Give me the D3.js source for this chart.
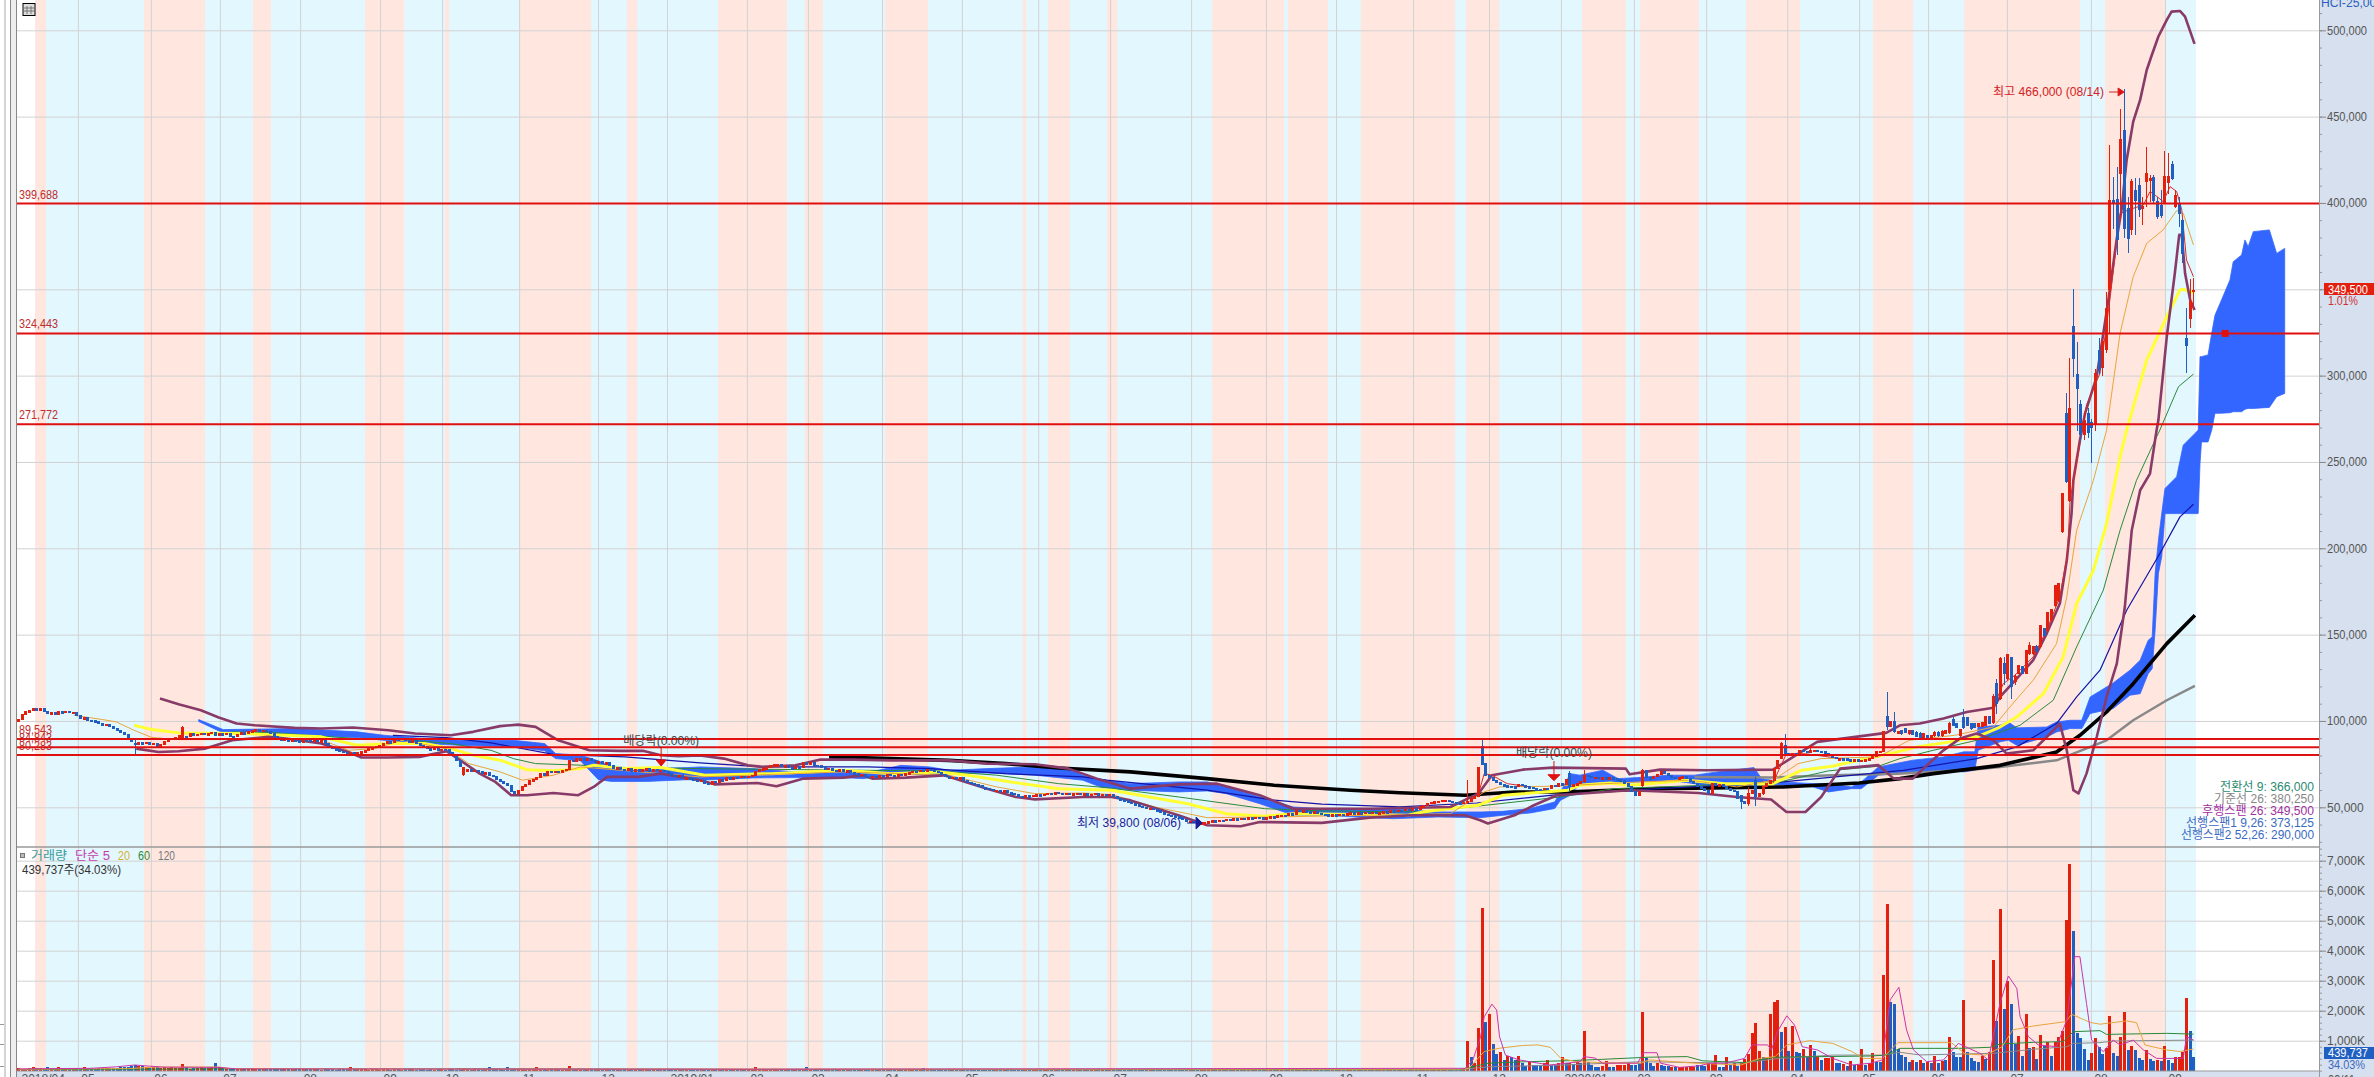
<!DOCTYPE html>
<html><head><meta charset="utf-8">
<style>html,body{margin:0;padding:0;background:#fff;overflow:hidden}svg{display:block}text{font-family:"Liberation Sans","Noto Sans CJK KR",sans-serif}</style>
<script src="https://cdn.jsdelivr.net/npm/d3@7"></script></head><body><svg id="c" width="2374" height="1077"></svg>
<script>
// ---------- data (price in thousands of won, x = trading-day number from 2018/04) ----------
const monthIdx=[0,16.4,36.4,55.3,77.3,99.2,116.2,137.3,158.9,177.8,199.7,216.4,236.7,258.6,279.5,299.2,321.4,341.9,361.1,382.2,403,422.7,442.7,462.5,484.7,504.4,523.3,544.9,567.9,588.2];
const monthLabels=["2018/04","05","06","07","08","09","10","11","12","2019/01","02","03","04","05","06","07","08","09","10","11","12","2020/01","02","03","04","05","06","07","08","09"];
const pinkBands=[[4.7,7.7],[34.5,51.2],[64.4,69.3],[95.1,105.8],[117,118.1],[137.3,157],[166.8,169.6],[191.8,210.7],[215.6,220.5],[237.5,249.3],[275.3,276.2],[282.2,288.2],[298.4,301.1],[327.1,346.8],[347.9,358.9],[367.9,393.7],[396.7,405.8],[428.5,440.5],[444.4,460.5],[473.4,488.2],[508.2,519.2],[533.2,564.9],[571.8,588.2]];
const blueSpan=[4.7,596.7];
const closes=[100.8,103.5,105.5,106,107,106.8,107.2,105.5,104.3,104.8,
103.9,105.3,105,105.6,104.7,105,103,101.4,102,100.5,
100,99.5,98.5,97.5,98,96.8,95.5,94.6,93.5,92,
89.2,88,86.9,87.5,87,87.7,86.5,87,85.5,86.5,
88,89.2,90,90.5,91.7,91,90.8,92.8,91.5,92.3,
93,92,92.7,93.5,91.8,92.5,92.3,92.9,91,90.8,
92,93.1,92.5,94,94.3,95,93.8,94.5,93.7,93,
91,89.5,88.8,89.8,88,88.9,88.5,87.8,89,88.8,
88,89.2,88.5,88.5,87,85.5,84,83.6,82.5,82,
81.1,81.8,80.8,81.5,82.1,82.8,84,84.5,85.5,86,
86.9,88,87.5,89.5,89.2,90,88.5,87.9,88.6,87,
85.9,85,84,83.4,84.5,83,83.6,83.2,81.5,80.2,
77,73.4,71,71.8,70.5,71.5,70.5,69.5,70,68.5,
67.6,66,65,63.5,62.8,59,57.9,60,61.8,63,
65.3,66,67,69.5,68.5,70.8,70.5,71,70,71.5,
72,77.3,76.5,78,78.2,77,78,77.3,76,76.5,
75.3,75.8,74,72.4,73,72,71.5,72.5,71,71.8,
71,71.8,72.2,71,72,71.5,71.5,70.5,69.5,68.5,
68,68.5,67,67.2,66.5,65.7,64.8,65.7,64,63.3,
65,64.5,66,65.5,67,66.3,67.5,67,68,67.5,
68,68.5,71,72,72.4,73,74,74.7,74.7,73.5,
74,73,72.4,73.5,72.8,75.7,75,76,74.3,74,
73,71.8,72.5,71.5,71,71.8,70.5,71.2,70,69.5,
68.5,69,68,67.2,68,67,68.5,68,69,68.5,
68,69,68.5,69.5,70,70.9,70.5,71.5,71,72,
71.5,71,70,69,67.6,67,67.5,66.6,67,65.5,
64.5,64,63,62.5,61.4,61,60.5,59.5,60,59.5,
59.5,58.5,58,57.2,56.4,56,56.8,56.4,57,57.4,
57,57.6,58,57.2,58.7,58,57.4,58,57.4,57.9,
58,57.4,57.8,57,57.5,58,57,57.5,56.9,57.5,
56,55,54.5,54,53,52,51.5,50.6,50,49.2,
49.5,48.7,48,47,46,45.5,45,44.5,44,43,
42,42,41.5,40.5,41,41.1,41.5,42.3,41.8,42.5,
42.1,43,42.5,43.4,43,43.8,43.4,44,43.6,44.2,
44,43.7,44,44.5,44.2,45,45.5,45.2,46.4,46,
48.3,47.5,48,47.5,47,47.3,46.5,46,45.8,45.4,
45.8,45.4,46,45.6,46.2,46.7,46.2,46.7,46.3,47,
46.7,47,46.3,46.8,47.5,47,48,47.5,48.3,48,
48.8,48.3,49.3,49,50.5,51,52,53,53.1,53.6,
54,54.1,53.5,53,52.5,52.2,52.8,53.5,55,56,
73,75,68.6,67,65.5,64.5,63,62.5,62.2,62,
61.8,63.4,62.5,62,61.5,60.8,60.5,60.3,61,60.8,
62.8,62,63.7,63,66,61.8,63,63.7,65,68.6,
68,67,67.5,66.6,67,66.5,67,66.6,66,65.7,
64,61.8,59,57,58.9,71.5,67,66.6,68,69,
70.5,69.5,68.6,67.5,66.6,67,67.6,66.5,65,63.7,
62,60.8,59.5,57.9,63.7,62.5,63,61.8,61,60,
58.9,55,53.1,52,58,60,56,58,61.8,63.5,
65.7,72.4,77.3,86.9,81,80.1,81.1,80.2,83,82.5,
82.1,83,83,82.5,82.1,81,80.2,79,78.2,78.2,
78,77.5,77.3,77.5,77,77.3,77.5,78.2,79.5,82.1,
82.5,93.7,96.6,99.5,93.7,93.7];
// [day, open, high, low, close] for the candles with a visible range of their own
const bigCandles=[[32,87,89,81,86.9],[45,90,97,89.5,96.5],[122,69.2,73,68,73],[397,53,65.7,52.1,53.5],[400,56,73,56,73],[401,85,88.8,75,75],[402,75.3,75.3,68.6,68.6],[425,69.5,71,59,61.8],[429,64.7,71.5,64,68.6],[445,62.8,71.9,61.8,71.5],[472,57,57,49.3,53.1],[474,52.1,61.8,51,58],[476,65.7,67.6,50.6,56],[478,58,62,57,61.8],[481,65.7,72.4,65.7,72.4],[483,78.2,88,78,86.9],[484,85.9,92.7,80,81],[491,82,86,81.5,83],[511,82.1,93.7,82,93.7],[512,102.4,116.8,95,96.6],[514,99.5,105.3,93,93.7]];
// open, high, low, close of the last bars, from day 516
const recentBars=[[94.6,95,92,92.7],[95.6,96,93,93.6],[92.5,95,92,94.6],[94.6,95,92,92.3],[93.6,94,91,91.1],[93,93.5,90,90.4],[90.7,93,90,92.7],[91.3,92,90,90.4],[89.7,92,89.5,91.7],[91.7,94,91,93.6],[93.6,94,91,91.7],[91.7,94.5,91,94],[93,95,92.5,94.6],[93.6,99.4,92.7,98.5],[100.8,102.3,97,97.5],[98.5,99,96,96.5],[91.7,95,91,95],[102,107,95.6,96.5],[102,102.5,97,97.5],[98.5,99,95,95.6],[98.5,99,96,96.2],[96.9,98.5,96.5,98.5],[96.9,99.4,96.5,99.4],[97.5,102.3,97,102.3],[102.7,103,98,98.5],[99.4,115.8,98.5,113.9],[121.6,124.5,104,110],[113,137,112,136],[133.2,137,121,127.4],[124.5,138.6,124,138.6],[136.7,136.7,113,119.7],[122.6,127.4,120.7,125.5],[127.4,132.3,127,132.3],[131.7,132,127,127.4],[127.4,140.9,127,140.9],[139,146,138,143.9],[139,142.9,138,142.9],[143.3,144,140,140],[142.9,155.4,142,155.4],[153.5,154,149,149.6],[152.5,162.6,152,162.6],[158.3,164.7,158,164.7],[167,178.6,166,178.6],[170,179.6,169,179.6],[209.5,231.7,209,231.7],[278,289.7,238,238.5],[227.8,310,227,281],[328.7,350.2,299,310],[300.4,319.7,268,292.6],[283,286,262,266],[266,279,263,274],[278,281,264,267],[273,275,249.5,270],[272,304,268,301],[314.8,321.6,301,304.2],[305,321,300,319.7],[315,348.6,313,339],[349.6,433.6,324.5,401.7],[401.7,415.3,385,400],[402,421,370,378.6],[416.8,454.5,390,436.5],[442,466,380,385],[396.9,403.7,370.8,379.5],[384.4,414,381.5,412.4],[407.5,414.3,381.5,401.7],[410.4,414.3,392,396],[397,403.7,387,398],[412.4,432.6,397.9,416.8],[413,416.2,400.8,414],[415,416.2,399.8,401.7],[400.8,403.7,391,392.1],[398.8,407.5,391.5,393],[399.8,430,399.8,415.3],[411.8,428.8,405,415.3],[422,424.3,413.3,414.3],[397.9,407.5,396.9,404.6],[399.8,403.7,386.3,394],[390,391,365,370.8],[321.6,339,301.7,317.7],[333.2,355.8,327.4,342.8],[349.2,356.4,338,349.5]];
const bbUpper=[[38.9,113],[44,109.7],[50.1,106.2],[55,102],[59.9,98.5],[64.8,97.5],[75.8,96],[83.1,95.6],[91.7,96.2],[101.5,94.6],[108.8,92.7],[118.6,91.7],[124.7,93.7],[132.1,97],[137,97.9],[141.8,96.6],[148,88.8],[156.5,83],[165.1,82.7],[171.2,82.7],[176.1,80.2],[181,79.6],[186.9,80],[193.4,78.2],[200,74.3],[203.9,73.4],[213,74.3],[219.6,77.6],[228.8,77.6],[239.3,77.2],[255,77.2],[265.5,75.3],[278.6,74.9],[287.8,72.4],[295.6,66.6],[304.8,60.8],[317.9,63.3],[328.4,63.7],[340.2,57],[349.4,49.2],[370.3,49.2],[392.4,50.2],[400.1,57.9],[403.8,68.6],[412.2,71.8],[420.5,73],[440.5,72.4],[441.5,69.1],[449.9,71.8],[462.5,71.5],[480.8,71.8],[492.9,87.9],[511.8,93.1],[515.6,97.5],[521,98.5],[527.5,101.4],[533.9,105.2],[541.2,107.7],[543,113.9],[547.6,124.5],[552.1,135.2],[555.8,150.6],[559.4,168],[561.3,193.1],[562.6,220.1],[563.1,239.4],[564.9,262.6],[566.3,278.2],[569.5,299.4],[572.7,343.8],[575,379.5],[576.3,396],[577.7,424.9],[579.5,447.1],[581.4,459.7],[583.2,477],[584.6,485.7],[586.4,496.4],[588.7,506],[590,510.8],[592.3,511.2],[593.7,507.9],[596.3,492.1]];
const bbLower=[[32.4,84],[38.5,82],[44,82.5],[51.3,84],[58.7,88.8],[68.5,90.8],[73.4,89.8],[83.1,86.9],[90.5,82],[94.1,78.8],[101.5,78.8],[110,79.2],[117.4,82.5],[121.1,77.3],[126.5,69.5],[130.8,64.7],[135.1,57],[139.4,57],[146.7,58.3],[153.5,57],[157.7,61.8],[161.4,67.6],[170,67.6],[176.1,69.5],[186.9,65.7],[190.8,63.3],[202.6,64.1],[207.8,62.2],[215,66.6],[226.2,67.2],[231.4,68.5],[234,66.6],[243.2,67.2],[253.7,68.5],[265.5,60.8],[273.4,56],[278.6,54.6],[291.7,56],[299.6,56],[304.8,54],[317.9,45.4],[325.8,39.6],[335,39],[340.2,41.5],[357.2,41],[370.3,44],[382.1,45.4],[396.4,45.4],[400.6,42.5],[402.7,40.6],[410,45.4],[415.3,51.2],[421.6,57],[441.5,59.9],[460.4,58.3],[470.9,56],[480.3,54.5],[484.5,47.3],[489.7,47.3],[494,56],[499.2,72.4],[509.7,74.4],[513.9,66.6],[519.1,66.6],[522,72.4],[527.5,83],[532,89.8],[536.6,92.7],[541.2,88.8],[544.8,81.1],[552.1,83],[555.8,90.7],[559.4,98.5],[561.3,83],[563.1,59.9],[564.5,58],[566.7,69.5],[569.5,90.7],[572.2,113.9],[575,133.2],[577.2,166],[579.1,210.5],[581.4,233.6],[584.1,243.3],[585.9,268.4],[586.4,274.3],[588.7,322.6],[590.9,359.3],[592.1,381.5],[592.8,381.5],[593.7,359.3],[595.1,343.8],[596.3,338]];
const maYellow=[[31.8,97.5],[36.7,95],[44,93.1],[62.3,92.7],[83.1,90.8],[92.9,85.9],[102.7,86.9],[111.3,86.9],[118.6,84],[124.7,80.2],[132.1,77.3],[139.4,71.8],[146.7,71.1],[154.1,72.4],[157.7,74.4],[166.3,72.4],[176.1,73],[188.2,68.6],[206.5,69.5],[226.2,71.4],[239.3,69.5],[252.4,70.5],[260.2,68.6],[272,64.7],[285.1,60.8],[299.6,59.9],[310.1,56],[320.5,52.1],[331,46.3],[341.5,44.8],[349.4,46.3],[362.5,46],[380.8,45.4],[384.9,47.3],[392.2,49.3],[400.1,51.2],[406.9,57],[424.7,59.9],[427.9,62.8],[436.3,64.1],[441.5,62.8],[446.8,63.7],[457.2,65.7],[467.7,63.7],[480.8,63.7],[488.7,71.5],[497,73.8],[504.4,77.3],[514.9,82.1],[520.2,85],[530.6,88.3],[536.6,90.7],[543,96.5],[547.6,102.3],[554.9,115.8],[560.3,137.1],[564,168],[568.6,187.3],[572.2,214.3],[575.9,252.9],[577.7,268.4],[583.2,309],[588.7,334.2],[592.3,349.6],[593.2,350],[596,348]];
const maOrange=[[15.3,103.3],[23.2,100.8],[26.9,99.5],[31.8,94.6],[36.7,90.4],[44,89.2],[83.1,89.2],[90.5,83],[97.8,84],[105.2,88.8],[117.4,84],[123.5,75.3],[132.1,70.5],[138.2,65.7],[146.7,68.6],[154.1,73.4],[186.9,67.6],[226.2,70.5],[255,68.6],[268.1,61.8],[278.6,57.9],[291.7,58.3],[299.6,57.4],[311.4,50.2],[325.8,44],[344.1,44.4],[392.4,46.3],[401.7,58.9],[405.9,61.8],[420.5,62.2],[444.7,64.7],[458.3,65.7],[470.9,61.8],[480.8,65.7],[487.7,75.3],[494,78.2],[509.7,79.2],[518.1,88.8],[530.6,91.7],[541.2,96.5],[545.7,108.1],[552.1,123.6],[558.5,144.8],[561.3,171.9],[564,210.5],[568.6,239.4],[572.2,268.4],[575.9,324.5],[579.5,357.3],[583.2,376.6],[587.7,384.4],[591.4,395.6],[593.2,394],[596,375.7]];
const maGreen=[[58.7,93.7],[70.9,93.1],[83.1,91.2],[92.9,89.8],[105.2,89.2],[118.6,86.9],[129.6,83],[135.7,78.2],[141.8,75.3],[154.1,74.4],[166.3,73],[186.9,72.4],[252.4,71],[268.1,68.6],[285.1,63.7],[298.3,61.4],[317.9,56],[341.5,49.2],[357.2,47.9],[384.9,47.3],[399.6,50.6],[422.6,56],[437.3,60.8],[462.5,62.8],[483.5,65.1],[496,71.1],[509.7,73.8],[515.6,78.2],[524.7,83],[536.6,88.8],[548.5,97.5],[557.6,112],[564,142.9],[571.3,175.7],[575.9,210.5],[580.4,239.4],[585.9,264.5],[586.8,268.5],[591.9,293.6],[596,300.9]];
const maNavy=[[102.7,91.7],[117.4,90.4],[129.6,87.3],[146.7,80.7],[166.3,79.2],[186.9,75.7],[203.9,73.4],[232.7,73.4],[249.8,72.4],[270.7,69.5],[291.7,67.6],[298.3,65.7],[325.8,59.9],[344.1,54.1],[357.2,51.8],[378.6,50.2],[399.6,52.5],[420.5,57],[441.5,59.9],[483.5,64.7],[516.5,71.4],[536.6,78.2],[547.6,85],[558.5,98.5],[564,113.9],[570.4,129.4],[577.7,164.1],[586.8,197],[592.3,218.2],[596,225.5]];
const maBlack=[[222.2,79.2],[239.3,78.2],[255,77.2],[270.7,75.3],[285.1,72.8],[304.8,70.5],[325.8,66.6],[344.1,62.8],[365.1,59.9],[378.6,58.4],[396.4,57],[410,58.9],[423.7,58.9],[449.9,60.8],[483.5,61.8],[504.4,64.1],[515.6,66.6],[524.7,69.5],[543,74.3],[558.5,82],[564.9,91.7],[572.2,105.2],[579.5,121.6],[588.7,144.8],[596.4,161.2]];
const maGray=[[459.3,67.6],[480.3,67.2],[497.1,68.6],[514.9,69.5],[535.9,71.9],[543,73.4],[558.5,77.2],[572.2,88.8],[579.5,100.4],[588.7,112],[596.4,120.3]];
const maRedA=[[400,57],[401.7,69.5],[403.8,68.6],[408,63.7],[414.3,61.8]];
const maRedB=[[480.8,64],[482.5,72],[484.5,81],[489.8,81],[500,78]];
const maRedC=[[541.2,108.1],[543.9,121.6],[547.1,126.5],[552.1,137.1],[555.8,152.5],[559.4,171.9],[561.5,197],[562.2,227.8],[566.7,283],[570.4,301.3],[573.1,343.8],[575.9,394],[579.5,396.9],[582.3,398.8],[584.1,406.6],[586,403.7],[587.7,400.8],[589.6,409.5],[591.4,406.6],[592.8,396],[594.1,367],[596,357.3]];
const cloudIdx=[49.5,56.2,75.8,92.9,100.3,111.3,121,135.7,144.3,147.3,154.1,159,162.6,172.4,183.4,186.9,201.3,213,226.2,231.4,241.9,249.8,255,265.5,278.6,287.8,291.7,297,304.8,317.9,325.8,331,340.2,349.4,357.2,370.3,376.9,389,400.6,406.9,414.3,421,422.6,425.3,427.9,434.2,438.4,443.6,452,459.3,465.6,475.6,477.7,483.5,491.8,496,502.3,505,509.7,519.1,527.5,533,536.1,537,543,545.3,547.6,555.8,558.5,562.2,565.4,567.7,574,578.6,581.4,583.6,584.7,585.5,586.4,587.3,588.2,591.4,593.2,596.4,597.3,597.8,598.2,600,601,601.9,603.3,606,606.9,609.2,610.1,611,612.4,616.8,618.8,621];
const cloudTop=[100.8,95,95.6,93.7,91.7,89.8,88.8,88.8,86.9,81.1,80.2,76.9,73.4,72.4,73,73.4,72.4,70.5,70.5,69.5,74.3,73.4,71.4,72.4,73.4,72.4,68.6,66,63.7,64.7,64.7,61.8,56,50.2,49.2,49.2,49.2,47.3,47.3,47.7,49.3,53.1,58.9,69.5,68.6,71.5,66.6,67.2,68.6,68.6,70.5,73,66.6,64.7,63.7,63.7,61.8,64.7,73.4,77.3,79.2,82.1,82.1,96.5,97.5,99.4,96,96.5,99.4,100.4,100.4,113.9,122,129.4,135.2,146.7,148.7,185.4,204.7,220,234.6,241.4,259.7,266.5,268.5,311,311,312,324.5,335,341.9,355.4,366,369.9,378.6,374.7,383.4,384.4,370.8,373.7];
const cloudBot=[99.7,93.1,91.7,90.4,88.8,86.9,85.9,85,82.7,78.2,76.9,66,65,65,66,65.7,67,67.2,67.2,66.6,69.5,68.6,69.5,69.9,68.6,66.6,65.7,61.4,59.9,58.9,59.5,57.9,52.1,45.4,45.4,44,43.4,44.4,44,45.4,46.7,49.3,54.1,57,63.7,64.7,64.7,64.7,65.7,63.7,60.8,62.8,63.7,62.8,61.8,58.9,60.8,60.8,68.6,70.5,71.4,70.5,71.4,83,87.9,88.8,85.9,90.7,93.6,95.6,95.6,104.3,107.2,114.9,115.8,127.4,130.3,152.5,185.4,195,220.1,220.1,220.1,220.1,220.1,249.1,261.6,261.6,268.4,278.2,278.2,278.5,279.1,279.1,280.5,281,281,281.6,287.8,289.7];
const priceLines=[399.688,324.443,271.772,89.543,84.843,80.283];
const priceLineLabels=["399,688","324,443","271,772","89,543","84,843","80,283"];
const priceTicks=[50,100,150,200,250,300,350,400,450,500];
const volumeTicks=[1000,2000,3000,4000,5000,6000,7000];
// volume in thousands of shares, day 0 to 396
const volumeEarly=[90,70,60,80,110,90,100,70,120,100,90,110,100,90,70,80,100,90,120,70,90,70,80,90,100,90,80,100,130,140,130,150,200,170,150,120,90,110,120,100,
110,100,130,90,100,220,110,70,100,90,110,90,100,110,260,110,100,80,100,90,60,70,90,60,80,60,50,60,60,70,60,50,70,60,50,60,70,50,60,50,
50,60,50,40,50,60,50,40,50,60,50,130,50,60,50,50,40,60,50,40,50,60,40,50,50,40,60,50,50,40,60,50,40,50,40,50,60,40,50,50,
40,50,60,50,40,50,50,40,60,120,60,50,50,40,110,70,60,60,50,40,50,60,140,60,50,40,50,60,50,40,60,170,60,50,40,60,50,60,50,50,
40,50,40,50,50,40,50,40,50,40,50,40,50,40,50,40,40,50,40,50,40,50,40,50,40,50,40,50,40,40,50,40,50,40,50,40,40,50,40,50,
40,50,120,60,50,40,50,40,50,40,40,50,40,50,40,40,110,50,40,50,40,50,40,40,50,40,50,40,40,50,40,40,50,40,40,50,40,40,50,40,
40,50,40,40,50,40,40,50,80,40,40,30,40,40,30,40,40,30,40,30,40,40,30,40,30,40,40,30,40,30,30,40,30,40,30,40,30,40,30,40,
40,30,40,30,30,40,30,40,30,40,30,40,30,40,30,30,40,30,40,30,40,50,30,40,30,40,30,40,30,30,40,30,40,30,30,40,30,40,30,40,
50,40,30,40,30,40,30,40,30,40,40,30,40,40,50,40,50,60,70,50,60,50,70,60,50,60,40,50,40,40,50,40,30,40,30,40,40,30,40,40,
40,30,40,30,40,40,30,40,30,40,40,30,40,40,30,40,30,40,40,50,40,50,40,30,40,50,40,30,40,50,40,50,40,50,60,60,70];
// volume from day 397: positive = up day, negative = down day
const volumeRecent=[990,-470,250,1410,5410,-1620,1890,-880,-560,620,-360,490,-450,-360,490,-250,-160,300,-190,-190,-190,250,360,-190,-190,250,470,-250,250,-220,300,-250,1320,-300,-190,-130,-110,160,330,-130,-110,190,190,190,270,-190,-190,-250,1960,-410,-250,-160,250,-190,-160,-160,110,-110,110,110,130,160,130,-190,-190,-160,220,250,525,-130,-130,470,-190,250,-160,250,380,560,1260,1590,660,-470,410,1900,2290,2360,-1300,1450,-660,1490,-620,-590,720,-470,860,-670,490,-360,410,410,470,-250,-250,220,-160,320,-190,190,720,-190,250,600,-280,-300,3190,5560,-2300,-2220,-720,-520,-450,-300,360,-300,360,-250,300,-250,490,-270,330,-360,1120,-620,-470,-470,2360,-640,-410,-320,-290,490,-400,620,3690,-1660,5390,-2060,3000,-2220,-880,1157,-490,1890,-745,800,-390,1190,-830,970,-490,970,1135,1335,5020,6890,-4657,-1246,-1080,-725,-357,600,1080,-800,-555,745,1824,-580,-490,1135,1946,-690,825,-690,-410,-357,690,-390,-335,357,-325,825,-357,-270,446,446,635,2410,-1325,-446];
const volMa5=[[0,60],[20,80],[27,130],[32,190],[36,150],[40,120],[55,110],[60,60],[200,50],[396.5,80],[398.6,360],[400.7,1130],[401.7,1800],[403.8,2220],[405.1,2020],[405.9,1130],[407.5,520],[411.2,360],[419.6,190],[428,300],[429,470],[432.1,420],[434.2,250],[443.7,250],[445.3,600],[449,600],[450,250],[455.2,110],[460.5,160],[463.6,250],[467.8,250],[473,410],[475.1,860],[479.3,860],[480.4,690],[482,1300],[484.6,1830],[486.7,1520],[488.8,800],[493,690],[497.2,410],[502.4,190],[507.6,250],[510.8,360],[512.9,2360],[515.3,2780],[517.4,1360],[519.3,690],[522.9,300],[527.5,357],[531.6,910],[537.5,580],[539.8,357],[543,2245],[545.3,3157],[547.6,2745],[548.5,1800],[550.8,1135],[553.5,857],[558.5,800],[561.3,1690],[563.5,3800],[564.9,3800],[566.7,2245],[568.1,1020],[571.3,635],[574,1020],[575.9,857],[579.5,1020],[582.3,690],[585.9,410],[593.2,410],[594.1,1135],[596,1020]];
const volMa20=[[0,50],[30,70],[38,120],[55,125],[58,70],[100,55],[395,50],[397.5,80],[401.7,640],[405.9,750],[412.2,840],[416.4,860],[419.8,780],[422.7,410],[426.9,300],[434.2,270],[444.7,250],[446.8,360],[459.4,250],[472,190],[477.2,410],[481.4,470],[484.6,860],[490.9,1000],[497.2,910],[502.4,640],[505.6,410],[510.8,410],[515,935],[529.7,935],[533.4,560],[539.1,520],[543.6,800],[546.5,1360],[552.1,1490],[561,1635],[562.6,1880],[567.7,1610],[570.4,1550],[577.7,1660],[580.4,1600],[582.7,857],[588.7,690],[592.3,640],[596,723]];
const volMa60=[[0,40],[60,60],[120,60],[200,40],[395,30],[402.8,250],[413.3,300],[423.8,330],[434.2,380],[446.8,450],[457.3,470],[461.5,330],[473,270],[481.4,450],[507.6,490],[511.8,520],[515.6,745],[532,745],[540.3,780],[543,890],[552.1,945],[560.3,970],[563.1,1300],[570.4,1335],[572.2,1210],[588.7,1245],[596,1220]];
const volMa120=[[120,60],[395,30],[402.8,130],[423.8,190],[444.7,300],[472,250],[482.5,410],[497.2,520],[510.8,520],[515.6,613],[521,525],[541.2,580],[552.1,714],[561.3,800],[563.1,910],[570.4,935],[574,990],[596,1020]];
const dividendMarks=[176.2,420.8];
const legendRows=[["전환선 9: 366,000","#2a8a70",94],["기준선 26: 380,250","#888888",100],["후행스팬 26: 349,500","#a030a0",112],["선행스팬1 9,26: 373,125","#3a6ac0",128],["선행스팬2 52,26: 290,000","#3a6ac0",133]];

// ---------- scales ----------
const x=d3.scaleLinear().domain([0,621]).range([18,2284.7]);
const y=d3.scaleLinear().domain([50,500]).range([807.3,30.3]);
const vy=d3.scaleLinear().domain([0,7000]).range([1070.7,860.7]);
const plotL=17,plotR=2319,H=1077,W=2374;
const RED="#e3200e",BLUE="#1f5fc2",MAROON="#883a68";
const svg=d3.select("#c");
const g=()=>svg.append("g");
function txt(px,py,s,o={}){const t=svg.append("text").attr("x",px).attr("y",py).text(s).attr("dominant-baseline","central")
 .attr("font-size",o.size||12).attr("fill",o.color||"#555").attr("text-anchor",o.anchor||"start");
 if(o.width)t.attr("textLength",o.width).attr("lengthAdjust","spacingAndGlyphs");return t;}

// background
svg.append("rect").attr("width",W).attr("height",H).attr("fill","#fff");
// bands
svg.append("rect").attr("x",x(blueSpan[0])).attr("width",x(blueSpan[1])-x(blueSpan[0])).attr("y",0).attr("height",1071).attr("fill","#e3f7fe");
g().selectAll("rect").data(pinkBands).join("rect").attr("x",d=>x(d[0])).attr("width",d=>x(d[1])-x(d[0])).attr("y",0).attr("height",1071).attr("fill","#ffe6df");
// side panel and strips
svg.append("rect").attr("x",plotR).attr("y",0).attr("width",W-plotR).attr("height",H).attr("fill","#d6e0ee");
svg.append("rect").attr("x",0).attr("y",1071).attr("width",W).attr("height",6).attr("fill","#d6e0ee");
svg.append("rect").attr("x",0).attr("y",0).attr("width",17).attr("height",H).attr("fill","#fff");
svg.append("rect").attr("x",11).attr("y",0).attr("width",5).attr("height",H).attr("fill","#eeeeee");
[[5,"#aaaaaa"],[10.5,"#888888"],[16.5,"#888888"]].forEach(d=>svg.append("line").attr("x1",d[0]).attr("x2",d[0]).attr("y1",0).attr("y2",H).attr("stroke",d[1]));
[1024.5,1044.5,1066.5].forEach(d=>svg.append("line").attr("x1",0).attr("x2",4).attr("y1",d).attr("y2",d).attr("stroke","#999"));

// horizontal grid through the axis generators
const gridP=g().attr("transform",`translate(${plotL},0)`).call(d3.axisLeft(y).tickValues(priceTicks).tickSize(-(plotR-plotL)).tickFormat(""));
const gridV=g().attr("transform",`translate(${plotL},0)`).call(d3.axisLeft(vy).tickValues(volumeTicks).tickSize(-(plotR-plotL)).tickFormat(""));
[gridP,gridV].forEach(a=>{a.select(".domain").remove();a.selectAll("line").attr("stroke","#d2d2d2");});
// month axis: grid + labels
const mAxis=g().attr("transform","translate(0,1071)").call(d3.axisBottom(x).tickValues(monthIdx).tickSize(-1071).tickPadding(0).tickFormat((d,i)=>monthLabels[i]));
mAxis.select(".domain").remove();
mAxis.selectAll("line").attr("stroke","#d2d2d2").filter(d=>d===0).remove();
mAxis.selectAll("text").attr("text-anchor","start").attr("dx",3).attr("y",3).attr("dy",0).attr("dominant-baseline","hanging").attr("font-size",12).attr("fill","#555").attr("font-family",'"Liberation Sans"');

// indicator lines
const line=d3.line().x(d=>x(d[0])).y(d=>y(d[1]));
const drawLine=(data,color,w)=>svg.append("path").attr("d",line(data)).attr("fill","none").attr("stroke",color).attr("stroke-width",w).attr("stroke-linejoin","round");

// Ichimoku cloud
const cloud=d3.area().x((d,i)=>x(cloudIdx[i])).y0((d,i)=>y(cloudBot[i])).y1((d,i)=>y(cloudTop[i]));
svg.append("path").attr("d",cloud(cloudIdx)).attr("fill","#3366ff").attr("stroke","#3366ff").attr("stroke-width",0.8);

drawLine(maGray,"#888888",2.5);
drawLine(maBlack,"#000000",3.6);
drawLine(maNavy,"#1414a8",1.2);
drawLine(maGreen,"#2a8a3a",1);
drawLine(maYellow,"#ffff33",3);
drawLine(maOrange,"#e8a53c",1);
drawLine(bbLower,MAROON,2.6);
drawLine(bbUpper,MAROON,2.6);
[maRedA,maRedB,maRedC].forEach(d=>drawLine(d,"#d42a2a",1));

// candles
const candles=closes.map((c,i)=>{const o=i?closes[i-1]:c;return {i,o,h:Math.max(o,c),l:Math.min(o,c),c};});
bigCandles.forEach(b=>{candles[b[0]]={i:b[0],o:b[1],h:b[2],l:b[3],c:b[4]};});
recentBars.forEach((b,k)=>candles[516+k]={i:516+k,o:b[0],h:b[1],l:b[2],c:b[3]});
const cg=g().attr("shape-rendering","crispEdges");
const bx=d=>Math.round(x(d.i));
cg.selectAll("line").data(candles).join("line").attr("x1",d=>bx(d)+.5).attr("x2",d=>bx(d)+.5).attr("y1",d=>y(d.h)).attr("y2",d=>y(d.l)).attr("stroke",d=>d.c>=d.o?RED:BLUE);
cg.selectAll("rect").data(candles).join("rect").attr("x",d=>bx(d)-1).attr("width",3)
 .attr("y",d=>y(Math.max(d.o,d.c))-.5).attr("height",d=>Math.max(2.5,Math.abs(y(d.o)-y(d.c))+1)).attr("fill",d=>d.c>=d.o?RED:BLUE);

// volume
const volumes=volumeEarly.map((v,i)=>({i,v,up:candles[i].c>=candles[i].o})).concat(volumeRecent.map((v,k)=>({i:397+k,v:Math.abs(v),up:v>0})));
const vg=g().attr("shape-rendering","crispEdges");
vg.selectAll("rect").data(volumes).join("rect").attr("x",d=>bx(d)-1).attr("width",3).attr("y",d=>vy(d.v)).attr("height",d=>vy(0)-vy(d.v)).attr("fill",d=>d.up?RED:BLUE);
const vline=d3.line().x(d=>x(d[0])).y(d=>vy(d[1]));
[[volMa120,"#8a8a8a"],[volMa60,"#2a8a3a"],[volMa20,"#e8a53c"],[volMa5,"#cc33aa"]].forEach(d=>svg.append("path").attr("d",vline(d[0])).attr("fill","none").attr("stroke",d[1]).attr("stroke-width",1));

// frame lines
svg.append("line").attr("x1",plotL).attr("x2",plotR).attr("y1",847).attr("y2",847).attr("stroke","#999").attr("stroke-width",1.5);
svg.append("line").attr("x1",plotL).attr("x2",plotR).attr("y1",1071).attr("y2",1071).attr("stroke","#999");

// horizontal price lines
svg.append("g").selectAll("line").data(priceLines).join("line").attr("x1",plotL).attr("x2",plotR).attr("y1",d=>y(d)).attr("y2",d=>y(d)).attr("stroke","#e01010").attr("stroke-width",2);
priceLines.forEach((d,i)=>txt(19,y(d)-9,priceLineLabels[i],{color:"#c02a2a",width:priceLineLabels[i].length>6?39:33}));
svg.append("rect").attr("x",x(604.7)-3.5).attr("y",y(324.443)-3.5).attr("width",7).attr("height",7).attr("fill","#e01010");

// right axes
function rightAxis(scale,major,minor,fmt){
 const mi=g().attr("transform",`translate(${plotR},0)`).call(d3.axisRight(scale).tickValues(minor).tickSize(3).tickFormat(""));
 mi.select(".domain").remove();mi.selectAll("line").attr("stroke","#999");
 const ma=g().attr("transform",`translate(${plotR},0)`).call(d3.axisRight(scale).tickValues(major).tickSize(7).tickPadding(1).tickFormat(fmt));
 ma.select(".domain").remove();ma.selectAll("line").attr("stroke","#888");
 ma.selectAll("text").attr("font-size",12).attr("fill","#555").attr("font-family",'"Liberation Sans"').attr("textLength",d=>fmt(d).length>6?40:null).attr("lengthAdjust","spacingAndGlyphs");
}
rightAxis(y,priceTicks,d3.range(30,530,10),d=>d3.format(",")(d*1000));
rightAxis(vy,volumeTicks,d3.range(0,7600,200),d=>d3.format(",")(d)+"K");
svg.append("line").attr("x1",plotR+.5).attr("x2",plotR+.5).attr("y1",0).attr("y2",1077).attr("stroke","#999");

// value boxes
svg.append("rect").attr("x",2324).attr("y",283).attr("width",50).attr("height",12).attr("fill","#e3200e");
txt(2328,289.5,"349,500",{color:"#fff",width:40});
txt(2328,301,"1.01%",{color:"#d03030",width:30});
svg.append("rect").attr("x",2324).attr("y",1047).attr("width",50).attr("height",12).attr("fill","#1f5fc2");
txt(2328,1053,"439,737",{color:"#fff",width:40});
txt(2328,1065,"34.03%",{color:"#3a6ac0",width:37});
txt(2321,3,"HCI-25,000",{color:"#2a5fc0",size:12.5,width:62});
txt(2328,1080,"09/11",{color:"#555",width:27});

// top-left icon
svg.append("rect").attr("x",23).attr("y",3.5).attr("width",12).attr("height",12).attr("fill","#dddddd").attr("stroke","#000");
[27,31].forEach(d=>svg.append("line").attr("x1",d).attr("x2",d).attr("y1",6).attr("y2",14).attr("stroke","#777"));
[8,11].forEach(d=>svg.append("line").attr("x1",24).attr("x2",34).attr("y1",d).attr("y2",d).attr("stroke","#777"));

// annotations
const hi=x(577),lo=x(324.4);
txt(1993,91.5,"최고 466,000 (08/14)",{color:"#d42020",width:111});
svg.append("path").attr("d",`M${hi-15},92H${hi-5}M${hi-6},88L${hi},92L${hi-6},96Z`).attr("stroke","#d42020").attr("fill","#e01010");
txt(1077,823,"최저 39,800 (08/06)",{color:"#1a1a9a",width:104});
svg.append("path").attr("d",`M${lo-15},823H${lo-5}M${lo-6},817L${lo},823L${lo-6},829Z`).attr("stroke","#1a1a9a").attr("fill","#1a1a9a");
[[dividendMarks[0],740.7,748,766,10],[dividendMarks[1],752.7,761,780.7,12]].forEach(m=>{
 const c=x(m[0]);txt(c,m[1],"배당락(0.00%)",{anchor:"middle",color:"#444",width:76});
 svg.append("path").attr("d",`M${c},${m[2]}V${m[3]-6}M${c-m[4]/2},${m[3]-6}H${c+m[4]/2}L${c},${m[3]}Z`).attr("stroke","#e01010").attr("fill","#e01010");
});

// legends
legendRows.forEach((r,i)=>txt(2314,787+12*i,r[0],{anchor:"end",color:r[1],width:r[2]}));
svg.append("rect").attr("x",20.5).attr("y",853.5).attr("width",4).attr("height",4).attr("fill","#bbb").attr("stroke","#777");
txt(31,856,"거래량",{color:"#3a9a9a",width:36});
txt(75,856,"단순 5",{color:"#c040b0",width:35});
txt(118,856,"20",{color:"#d8b030",width:12});
txt(138,856,"60",{color:"#2a8a3a",width:12});
txt(158,856,"120",{color:"#777",width:17});
txt(22,869.5,"439,737주(34.03%)",{color:"#333",width:99});
</script></body></html>
